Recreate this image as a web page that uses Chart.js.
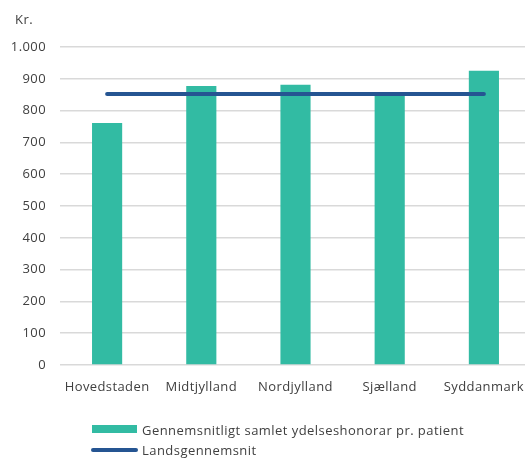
<!DOCTYPE html>
<html>
<head>
<meta charset="utf-8">
<script src="https://cdn.jsdelivr.net/npm/chart.js@4/dist/chart.umd.min.js"></script>
<style>
  html, body { margin: 0; padding: 0; background: #fff; overflow: hidden; }
  #wrap { width: 531px; height: 458px; }
</style>
</head>
<body>
<div id="wrap"><canvas id="myChart"></canvas></div>
<script>
// data
const regions = ['Hovedstaden', 'Midtjylland', 'Nordjylland', 'Sjælland', 'Syddanmark'];
const avgFee = [761, 877, 881, 850, 925];
const nationalAvg = [852, 852, 852, 852, 852];
const yTicks = [0, 100, 200, 300, 400, 500, 600, 700, 800, 900, 1000];

const barLabel = 'Gennemsnitligt samlet ydelseshonorar pr. patient';
const lineLabel = 'Landsgennemsnit';
const unitLabel = 'Kr.';
const textColor = '#404040';
const font = { family: 'Open Sans', size: 13 };

// unit label on top + legend stacked under the plot, left aligned like the original
const extras = {
    id: 'extras',
    beforeDraw(chart) {
        // the original text is spaced a bit wider
        chart.ctx.letterSpacing = '0.4px';
    },
    afterDraw(chart) {
        const ctx = chart.ctx;
        const ds = chart.data.datasets;
        const bar = ds.find(d => d.type === 'bar');
        const line = ds.find(d => d.type === 'line');
        const x0 = 92;
        ctx.save();
        ctx.font = '13px "Open Sans"';
        ctx.letterSpacing = '0.45px';
        ctx.textBaseline = 'middle';
        ctx.fillStyle = textColor;
        ctx.fillText(unitLabel, 15, 20);
        // bar item
        ctx.fillStyle = bar.backgroundColor;
        ctx.fillRect(x0, 425, 45, 8);
        ctx.fillStyle = textColor;
        ctx.fillText(bar.label, x0 + 50, 431);
        // line item
        ctx.strokeStyle = line.borderColor;
        ctx.lineWidth = 4;
        ctx.lineCap = 'round';
        ctx.beginPath();
        ctx.moveTo(x0 + 1, 450);
        ctx.lineTo(x0 + 44, 450);
        ctx.stroke();
        ctx.fillText(line.label, x0 + 50, 451);
        ctx.restore();
    }
};

const ctx = document.getElementById('myChart').getContext('2d');
const chart = new Chart(ctx, {
    data: {
        labels: regions,
        datasets: [{
            type: 'line',
            label: lineLabel,
            data: nationalAvg,
            borderColor: '#255592',
            borderWidth: 4,
            borderCapStyle: 'round',
            pointRadius: 0,
            order: 0
        }, {
            type: 'bar',
            label: barLabel,
            data: avgFee,
            backgroundColor: '#32bba3',
            categoryPercentage: 1,
            barPercentage: 0.32,
            order: 1
        }]
    },
    options: {
        responsive: true,
        maintainAspectRatio: false,
        animation: false,
        layout: { padding: { left: 0, right: 0, top: 47, bottom: 63 } },
        plugins: {
            legend: { display: false },
            tooltip: { enabled: false }
        },
        scales: {
            x: {
                grid: { display: false, drawTicks: false },
                border: { display: false },
                ticks: { color: textColor, font: font, padding: 14 },
                afterFit(axis) {
                    axis.height = 30;
                    axis.paddingLeft = 0;
                    axis.paddingRight = 0;
                }
            },
            y: {
                min: 0,
                max: 1000,
                afterBuildTicks(axis) { axis.ticks = yTicks.map(v => ({ value: v })); },
                grid: { color: '#d9d9d9', lineWidth: 1.5, drawTicks: false },
                border: { display: false },
                ticks: {
                    color: textColor,
                    font: font,
                    padding: 14,
                    callback: v => v.toLocaleString('da-DK')
                },
                afterFit(axis) {
                    axis.width = 60;
                    axis.paddingTop = 0;
                    axis.paddingBottom = 0;
                }
            }
        }
    },
    plugins: [extras]
});
</script>
</body>
</html>
